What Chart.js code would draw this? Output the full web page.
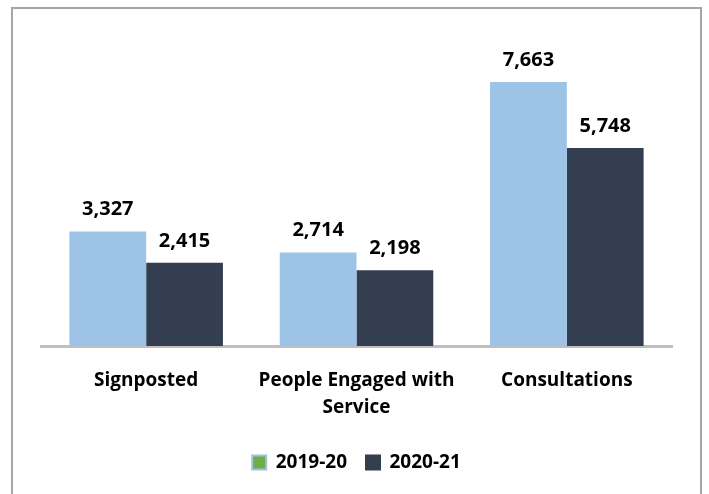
<!DOCTYPE html>
<html>
<head>
<meta charset="utf-8">
<script src="https://cdn.jsdelivr.net/npm/chart.js@4/dist/chart.umd.min.js"></script>
<style>
	html, body { margin: 0; padding: 0; background: #fff; overflow: hidden; }
	#frame {
		position: absolute; left: 11px; top: 7px; width: 687px; height: 600px;
		border: 2px solid #A6A6A6; border-bottom: none;
	}
	#wrap { position: absolute; left: 0; top: 0; width: 709px; height: 494px; }
</style>
</head>
<body>
<div id="frame"></div>
<div id="wrap"><canvas id="myChart" width="709" height="494"></canvas></div>
<script>
var categories = ["Signposted", ["People Engaged with", "Service"], "Consultations"];
var seriesNames = ["2019-20", "2020-21"];
var values2019 = [3327, 2714, 7663];
var values2020 = [2415, 2198, 5748];

var barColors = ["#9DC3E6", "#333F50"];
var legendFill = ["#70AD47", "#333F50"];
var fontFamily = "'Open Sans', sans-serif";

var valueLabels = {
	id: "valueLabels",
	afterDatasetsDraw: function(chart) {
		var ctx = chart.ctx;
		ctx.save();
		ctx.font = "bold 20px " + fontFamily;
		ctx.fillStyle = "#000";
		ctx.textAlign = "center";
		ctx.textBaseline = "bottom";
		chart.data.datasets.forEach(function(ds, i) {
			chart.getDatasetMeta(i).data.forEach(function(bar, j) {
				ctx.fillText(ds.data[j].toLocaleString("en-US"), bar.x, bar.y - 12);
			});
		});
		ctx.restore();
	}
};

var ctx = document.getElementById("myChart");

var myBarChart = new Chart(ctx, {
	type: "bar",
	data: {
		labels: categories,
		datasets: [
			{ label: seriesNames[0], data: values2019, backgroundColor: barColors[0] },
			{ label: seriesNames[1], data: values2020, backgroundColor: barColors[1] }
		]
	},
	options: {
		responsive: false,
		animation: false,
		layout: { padding: { left: 41, right: 37, top: 36, bottom: 12 } },
		datasets: { bar: { categoryPercentage: 0.73, barPercentage: 1 } },
		scales: {
			x: {
				grid: { display: false },
				border: { display: true, color: "#BFBFBF", width: 3 },
				ticks: {
					color: "#000",
					padding: 13,
					maxRotation: 0,
					font: { family: fontFamily, size: 19, weight: "bold", lineHeight: 1.42 }
				}
			},
			y: { display: false, min: 0, max: 9000 }
		},
		plugins: {
			tooltip: { enabled: false },
			legend: {
				position: "bottom",
				labels: {
					color: "#000",
					boxWidth: 14,
					boxHeight: 14,
					padding: 19,
					font: { family: fontFamily, size: 19, weight: "bold" },
					generateLabels: function(chart) {
						return chart.data.datasets.map(function(ds, i) {
							return {
								text: ds.label,
								fillStyle: legendFill[i],
								strokeStyle: barColors[i],
								lineWidth: 2,
								fontColor: "#000",
								datasetIndex: i
							};
						});
					}
				}
			}
		}
	},
	plugins: [valueLabels]
});
</script>
</body>
</html>
